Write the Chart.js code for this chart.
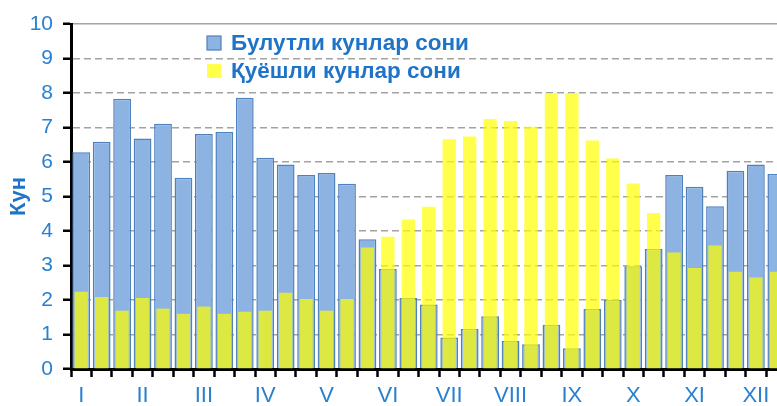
<!DOCTYPE html>
<html>
<head>
<meta charset="utf-8">
<script src="https://cdn.jsdelivr.net/npm/chart.js@4/dist/chart.umd.min.js"></script>
<style>
  html, body { margin: 0; padding: 0; background: #ffffff; overflow: hidden; }
  #wrap { width: 777px; height: 406px; overflow: hidden; position: relative; }
  canvas { display: block; }
</style>
</head>
<body>
<div id="wrap"><canvas id="c" width="812" height="406"></canvas></div>
<script>
// ---- data ----
const months = ['I','II','III','IV','V','VI','VII','VIII','IX','X','XI','XII'];
const dekadsPerMonth = 3;
const cloudyDays = [6.28,6.59,7.83,6.68,7.11,5.54,6.81,6.87,7.86,6.12,5.93,5.62,5.68,5.37,3.76,2.90,2.06,1.87,0.91,1.16,1.53,0.81,0.72,1.28,0.60,1.74,2.00,2.98,3.48,5.62,5.28,4.72,5.75,5.93,5.65,6.00];
const sunnyDays  = [2.24,2.09,1.69,2.06,1.75,1.60,1.81,1.60,1.66,1.69,2.21,2.03,1.69,2.03,3.52,3.83,4.33,4.70,6.66,6.74,7.25,7.19,7.02,8.00,8.00,6.62,6.10,5.38,4.52,3.38,2.93,3.58,2.82,2.65,2.82,2.50];
const seriesNames = ['Булутли кунлар сони', 'Қуёшли кунлар сони'];
const yTitle = 'Кун';
const yTicks = [0,1,2,3,4,5,6,7,8,9,10];

// categories: one per dekad, month numeral on the first dekad
const categories = [];
months.forEach(m => { for (let d = 0; d < dekadsPerMonth; d++) categories.push(d === 0 ? m : ''); });

const FONT = 'Liberation Sans, Arial, sans-serif';
const BLUE_TXT = '#1f74c8';
const TICK_TXT = '#2880d2';

const legendPlugin = {
  id: 'customLegend',
  afterDraw(chart) {
    const ctx = chart.ctx;
    const items = [
      { label: chart.data.datasets[1].label, fill: '#8db3e2', stroke: '#4f81bd', y: 43 },
      { label: chart.data.datasets[0].label, fill: 'rgba(255,255,0,0.7)', stroke: null, y: 71 }
    ];
    ctx.save();
    ctx.font = 'bold 22.5px ' + FONT;
    ctx.textBaseline = 'middle';
    ctx.textAlign = 'left';
    items.forEach(it => {
      ctx.fillStyle = it.fill;
      ctx.fillRect(207, it.y - 7, 14, 14);
      if (it.stroke) { ctx.strokeStyle = it.stroke; ctx.lineWidth = 1.2; ctx.strokeRect(207, it.y - 7, 14, 14); }
      ctx.fillStyle = BLUE_TXT;
      ctx.fillText(it.label, 231, it.y + 1);
    });
    ctx.restore();
  }
};

new Chart(document.getElementById('c'), {
  type: 'bar',
  data: {
    labels: categories,
    datasets: [
      {
        label: seriesNames[1],
        data: sunnyDays,
        backgroundColor: 'rgba(255,255,0,0.7)',
        borderWidth: 0,
        grouped: false,
        order: 0,
        barPercentage: 0.65,
        categoryPercentage: 1.0
      },
      {
        label: seriesNames[0],
        data: cloudyDays,
        backgroundColor: '#8db3e2',
        borderColor: '#4f81bd',
        borderWidth: 1.5,
        grouped: false,
        order: 1,
        barPercentage: 0.87,
        categoryPercentage: 1.0
      }
    ]
  },
  options: {
    responsive: false,
    animation: false,
    events: [],
    layout: { padding: { top: 24, right: 5, bottom: 0, left: 0 } },
    plugins: { legend: { display: false }, tooltip: { enabled: false } },
    scales: {
      x: {
        offset: true,
        afterFit: s => { s.height = 37; },
        grid: { display: true, offset: true, drawOnChartArea: false, drawTicks: true, tickLength: 8, tickColor: '#000000', tickWidth: 2.5, color: '#000000' },
        border: { display: true, color: '#000000', width: 3 },
        ticks: { autoSkip: false, maxRotation: 0, minRotation: 0, padding: 6, color: TICK_TXT, font: { family: FONT, size: 22 } },
      },
      y: {
        min: 0, max: 10,
        afterFit: s => { s.width = 71; },
        afterBuildTicks: s => { s.ticks = yTicks.map(v => ({ value: v })); },
        grid: { display: true, drawOnChartArea: true, drawTicks: true, tickLength: 8, tickColor: '#000000', tickWidth: 2.5,
                color: '#a3a3a3', lineWidth: 1.5 },
        border: { display: true, color: '#000000', width: 3,
                  dash: (c) => (c.tick && c.tick.value === 10) ? [] : [7, 4] },
        ticks: { stepSize: 1, padding: 10, color: TICK_TXT, font: { family: FONT, size: 21 } },
        title: { display: true, text: yTitle, color: BLUE_TXT, font: { family: FONT, size: 22, weight: 'bold' }, padding: { top: 6, bottom: 0 } }
      }
    }
  },
  plugins: [legendPlugin]
});
</script>
</body>
</html>
